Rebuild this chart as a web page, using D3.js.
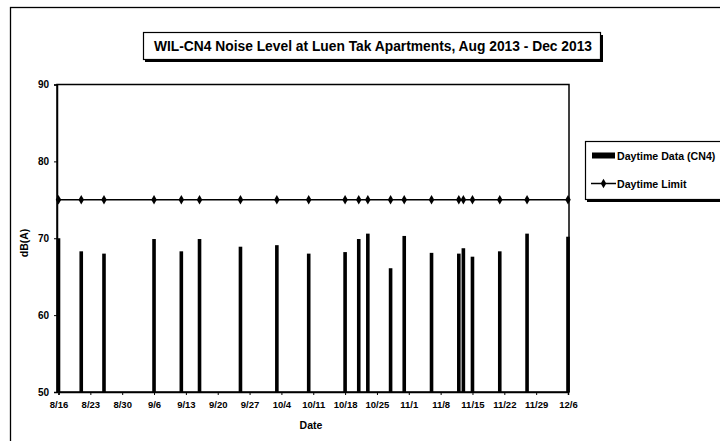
<!DOCTYPE html>
<html><head><meta charset="utf-8">
<script src="https://cdn.jsdelivr.net/npm/d3@7"></script>
<style>
body{margin:0;background:#fff;}
text{font-family:"Liberation Sans",Arial,sans-serif;font-weight:bold;fill:#000;}
</style></head>
<body><svg id="c" width="720" height="441"></svg>
<script>
const dates = ["2013-08-16","2013-08-21","2013-08-26","2013-09-06","2013-09-12","2013-09-16","2013-09-25","2013-10-03","2013-10-10","2013-10-18","2013-10-21","2013-10-23","2013-10-28","2013-10-31","2013-11-06","2013-11-12","2013-11-13","2013-11-15","2013-11-21","2013-11-27","2013-12-06"];
const daytimeData = [70.0,68.3,68.0,69.9,68.3,69.9,68.9,69.1,68.0,68.2,69.9,70.6,66.1,70.3,68.1,68.0,68.7,67.6,68.3,70.6,70.2];
const daytimeLimit = [75,75,75,75,75,75,75,75,75,75,75,75,75,75,75,75,75,75,75,75,75];
const xTickLabels = ["8/16","8/23","8/30","9/6","9/13","9/20","9/27","10/4","10/11","10/18","10/25","11/1","11/8","11/15","11/22","11/29","12/6"];
const yTicks = [50,60,70,80,90];
const titleText = "WIL-CN4 Noise Level at Luen Tak Apartments, Aug 2013 - Dec 2013";
const seriesNames = ["Daytime Data (CN4)","Daytime Limit"];

const parse = d3.timeParse("%Y-%m-%d");
const svg = d3.select("#c");
const L = 57, R = 569, T = 84.5, B = 392;

// outer frame
svg.append("rect").attr("x",10.5).attr("y",7.5).attr("width",720).attr("height",440)
  .attr("fill","none").attr("stroke","#000").attr("stroke-width",1.3);

const x = d3.scaleTime().domain([parse("2013-08-16"), parse("2013-12-06")]).range([58.5, 568]);
const y = d3.scaleLinear().domain([50,90]).range([B, T]);

// plot box
svg.append("rect").attr("x",L).attr("y",T).attr("width",R-L).attr("height",B-T)
  .attr("fill","none").attr("stroke","#000").attr("stroke-width",1.5);

// bars
const bw = 3.6;
svg.append("g").selectAll("rect").data(dates).join("rect")
  .attr("x",(d)=>x(parse(d))-bw/2).attr("width",bw)
  .attr("y",(d,i)=>y(daytimeData[i])).attr("height",(d,i)=>B-y(daytimeData[i]))
  .attr("fill","#000");

// limit line
const line = d3.line().x((d,i)=>x(parse(dates[i]))).y(d=>y(d));
svg.append("path").datum(daytimeLimit).attr("d",line).attr("fill","none").attr("stroke","#000").attr("stroke-width",1.6);
const sym = d3.symbol().type(d3.symbolDiamond).size(26);
svg.append("g").selectAll("path").data(daytimeLimit).join("path")
  .attr("transform",(d,i)=>`translate(${x(parse(dates[i]))},${y(d)})`)
  .attr("d",sym).attr("fill","#000");

// y axis
const yAxis = d3.axisLeft(y).tickValues(yTicks).tickSize(3).tickPadding(5);
const gy = svg.append("g").attr("transform",`translate(${L},0)`).call(yAxis);
gy.select(".domain").attr("stroke-width",1.5);
gy.selectAll("text").style("font-size","10px").style("font-family","'Liberation Sans',Arial,sans-serif").style("font-weight","bold");

// x axis
const tickDates = xTickLabels.map((s,i)=>d3.timeDay.offset(parse("2013-08-16"), i*7));
const xAxis = d3.axisBottom(x).tickValues(tickDates).tickFormat((d,i)=>xTickLabels[i]).tickSize(3).tickPadding(6);
const gx = svg.append("g").attr("transform",`translate(0,${B})`).call(xAxis);
gx.select(".domain").attr("stroke-width",1.5);
gx.selectAll("text").style("font-size","9.5px").style("font-family","'Liberation Sans',Arial,sans-serif").style("font-weight","bold");

// axis titles
svg.append("text").attr("x",311).attr("y",429).attr("text-anchor","middle").style("font-size","10.5px").text("Date");
svg.append("text").attr("transform","translate(28,243) rotate(-90)").attr("text-anchor","middle").style("font-size","10.5px").text("dB(A)");

// title box
svg.append("rect").attr("x",145).attr("y",35).attr("width",458).attr("height",27).attr("fill","#000");
svg.append("rect").attr("x",143.5).attr("y",32.5).attr("width",457).attr("height",27).attr("fill","#fff").attr("stroke","#000").attr("stroke-width",1.2);
svg.append("text").attr("x",373).attr("y",51).attr("text-anchor","middle").style("font-size","13.8px").text(titleText);

// legend
svg.append("rect").attr("x",587).attr("y",143).attr("width",200).attr("height",59).attr("fill","#000");
svg.append("rect").attr("x",585.5).attr("y",141.5).attr("width",200).attr("height",58).attr("fill","#fff").attr("stroke","#000").attr("stroke-width",1.2);
svg.append("rect").attr("x",592).attr("y",152.5).attr("width",23).attr("height",6).attr("fill","#000");
svg.append("text").attr("x",617).attr("y",159.5).style("font-size","10.6px").text(seriesNames[0]);
svg.append("line").attr("x1",591).attr("x2",616).attr("y1",183.5).attr("y2",183.5).attr("stroke","#000").attr("stroke-width",1.5);
svg.append("path").attr("transform","translate(603.5,183.5)").attr("d",sym).attr("fill","#000");
svg.append("text").attr("x",617).attr("y",187.5).style("font-size","10.6px").text(seriesNames[1]);
</script></body></html>
